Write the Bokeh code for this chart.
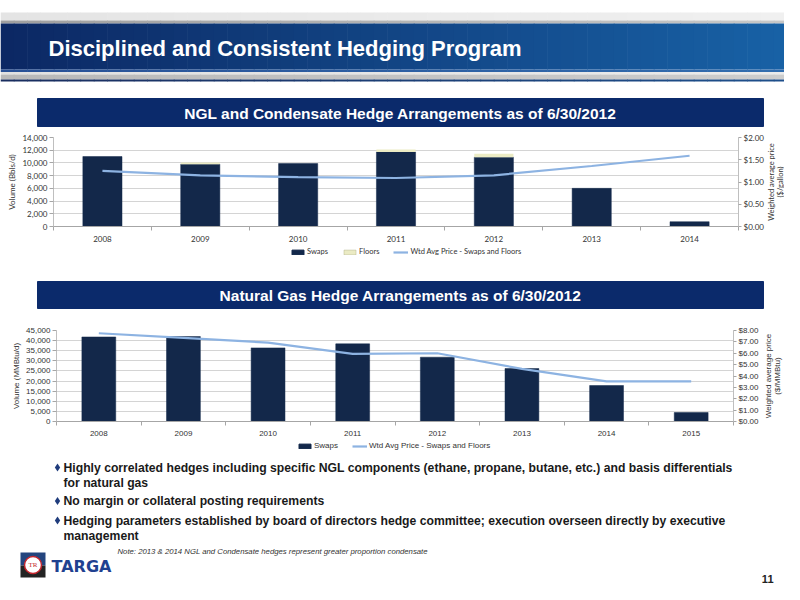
import math
import numpy as np
from bokeh.plotting import figure
from bokeh.layouts import row
from bokeh.models import (Range1d, LinearAxis, FixedTicker, NumeralTickFormatter,
                          Legend, LegendItem, ColumnDataSource)
from bokeh.core.properties import value
from bokeh.embed import file_html
from bokeh.resources import INLINE

# ---------------- data ----------------
ngl_years = ["2008", "2009", "2010", "2011", "2012", "2013", "2014"]
ngl_swaps = [11000, 9800, 9900, 11700, 10900, 6000, 750]
ngl_floors = [0, 250, 0, 400, 530, 0, 0]
ngl_price = [1.25, 1.15, 1.11, 1.09, 1.15, 1.36, 1.59]

gas_years = ["2008", "2009", "2010", "2011", "2012", "2013", "2014", "2015"]
gas_swaps = [41800, 42000, 36400, 38400, 31800, 26200, 17800, 4450]
gas_price = [7.76, 7.35, 6.94, 5.95, 6.00, 4.63, 3.52, 3.52]

ngl_ticks = [0, 2000, 4000, 6000, 8000, 10000, 12000, 14000]
ngl_price_ticks = [0, 0.5, 1.0, 1.5, 2.0]
gas_ticks = [0, 5000, 10000, 15000, 20000, 25000, 30000, 35000, 40000, 45000]
gas_price_ticks = [0, 1, 2, 3, 4, 5, 6, 7, 8]

title_text = "Disciplined and Consistent Hedging Program"
ngl_title = "NGL and Condensate Hedge Arrangements as of 6/30/2012"
gas_title = "Natural Gas Hedge Arrangements as of 6/30/2012"
ngl_price_title = ["Weighted average price", "($/gallon)"]
gas_price_title = ["Weighted average price", "($/MMBtu)"]
bullets = [
    ["Highly correlated hedges including specific NGL components (ethane, propane, butane, etc.) and basis differentials",
     "for natural gas"],
    ["No margin or collateral posting requirements"],
    ["Hedging parameters established by board of directors hedge committee; execution overseen directly by executive",
     "management"],
]
note_text = "Note: 2013 & 2014 NGL and Condensate hedges represent greater proportion condensate"

NAVY_BAR = "#13284a"
LINE_BLUE = "#8db3e2"
FLOOR = "#ebebc4"
BOX = "#0b2a6b"
W = 784


def deco(h, y0):
    p = figure(width=W, height=h, x_range=Range1d(0, W), y_range=Range1d(y0 + h, y0),
               output_backend="svg", toolbar_location=None, min_border=0,
               min_border_left=0, min_border_right=0, min_border_top=0, min_border_bottom=0,
               x_axis_type=None, y_axis_type=None, outline_line_color=None,
               background_fill_color="white", border_fill_color="white")
    return p


def hgrad(p, x0, x1, y0, y1, c0, c1, n=60):
    xs = np.linspace(x0, x1, n + 1)
    cols = []
    for i in range(n):
        t = i / (n - 1)
        cols.append("#%02x%02x%02x" % tuple(int(round(a + (b - a) * t)) for a, b in zip(c0, c1)))
    p.quad(left=xs[:-1], right=xs[1:] + 0.6, top=[y0] * n, bottom=[y1] * n,
           fill_color=cols, line_color=None)


# ---------------- header ----------------
pH = deco(132, 0)
hgrad(pH, 0, 800, 12, 20, (228, 228, 228), (240, 240, 240))
hgrad(pH, 0, 800, 20, 23, (160, 160, 160), (200, 200, 200))
hgrad(pH, 0, 800, 23, 69, (12, 40, 100), (24, 98, 166))
hgrad(pH, 0, 800, 69, 71.5, (40, 80, 150), (50, 110, 175))
hgrad(pH, 0, 800, 71.5, 74, (225, 225, 225), (235, 235, 235))
hgrad(pH, 0, 800, 74, 79, (185, 185, 185), (205, 205, 205))
hgrad(pH, 0, 800, 79, 81, (25, 45, 95), (30, 80, 140))
pH.text(x=[48], y=[48], text=[title_text], text_font=value("Liberation Sans"),
        text_font_style="bold", text_font_size="22px", text_color="white",
        text_baseline="middle", text_align="left")
pH.quad(left=[37], right=[763], top=[98], bottom=[126], fill_color=BOX, line_color=BOX)
pH.text(x=[400], y=[112.5], text=[ngl_title], text_font=value("Liberation Sans"),
        text_font_style="bold", text_font_size="15.5px", text_color="white",
        text_baseline="middle", text_align="center")


def style_axis(ax, font, size):
    ax.major_label_text_font = font
    ax.major_label_text_font_size = size
    ax.major_label_text_color = "#333333"
    ax.axis_label_text_font = font
    ax.axis_label_text_font_style = "normal"
    ax.axis_label_text_color = "#333333"
    ax.axis_line_color = "#a6a6a6"
    ax.major_tick_line_color = "#a6a6a6"
    ax.minor_tick_line_color = "#a6a6a6"
    ax.major_tick_in = 0
    ax.minor_tick_in = 0


def chart(years, swaps, price, ticks, pticks, pmax, floors, w, h, y0, top, bottom,
          left, right, font, fsize, ylabel):
    n = len(years)
    xs = list(range(n))
    data = dict(x=xs, swaps=swaps, price=price)
    if floors is not None:
        data["ftop"] = [s + f for s, f in zip(swaps, floors)]
    src = ColumnDataSource(data)
    p = figure(width=w, height=h, x_range=Range1d(-0.5, n - 0.5),
               y_range=Range1d(ticks[0], ticks[-1]),
               output_backend="svg", toolbar_location=None,
               min_border_left=left, min_border_right=w - right,
               min_border_top=top - y0, min_border_bottom=y0 + h - bottom,
               outline_line_color=None, background_fill_color="white",
               border_fill_color="white")
    p.extra_y_ranges = {"price": Range1d(pticks[0], pmax)}
    p.xgrid.visible = False
    p.ygrid.ticker = FixedTicker(ticks=ticks)
    p.ygrid.grid_line_color = "#d4d4d4"

    xa = p.xaxis[0]
    xa.ticker = FixedTicker(ticks=xs, minor_ticks=[i - 0.5 for i in range(n + 1)])
    xa.major_label_overrides = {i: y for i, y in enumerate(years)}
    style_axis(xa, font, fsize)
    xa.major_tick_out = 0
    xa.minor_tick_out = 4
    xa.major_label_standoff = 5

    ya = p.yaxis[0]
    ya.ticker = FixedTicker(ticks=ticks)
    ya.formatter = NumeralTickFormatter(format="0,0")
    style_axis(ya, font, fsize)
    ya.major_tick_out = 4
    ya.major_label_standoff = 2
    ya.axis_label = ylabel
    ya.axis_label_text_font_size = fsize
    ya.axis_label_standoff = 2
    ya.axis_line_color = "#bfbfbf"

    ra = LinearAxis(y_range_name="price", ticker=FixedTicker(ticks=pticks),
                    formatter=NumeralTickFormatter(format="$0.00"))
    style_axis(ra, font, fsize)
    ra.major_tick_out = 3
    ra.major_label_standoff = 2
    ra.axis_line_color = "#bfbfbf"
    p.add_layout(ra, "right")

    p.vbar(x="x", top="swaps", width=0.4, source=src, fill_color=NAVY_BAR,
           line_color=NAVY_BAR, line_width=0.5)
    if floors is not None:
        p.vbar(x="x", bottom="swaps", top="ftop", width=0.4, source=src,
               fill_color=FLOOR, line_color=None)
    p.line(x="x", y="price", source=src, y_range_name="price",
           line_color=LINE_BLUE, line_width=2.2)
    return p


def side_title(x0, h, y0, top, bottom, lines, xs, font, fsize):
    # narrow strip to the right of a chart, holding the price-axis title (reads upward)
    p = figure(width=W - x0, height=h, x_range=Range1d(x0, W), y_range=Range1d(0, 1),
               output_backend="svg", toolbar_location=None,
               min_border_left=0, min_border_right=0,
               min_border_top=top - y0, min_border_bottom=y0 + h - bottom,
               x_axis_type=None, y_axis_type=None, outline_line_color=None,
               background_fill_color="white", border_fill_color="white")
    p.text(x=xs, y=[0.5] * len(lines), text=lines, angle=math.pi / 2,
           text_font=value(font), text_font_size=fsize, text_color="#333333",
           text_align="center", text_baseline="middle")
    return p


def legend_fig(h, y0, names, with_floors, font, fsize, lx):
    p = deco(h, y0)
    proxy = ColumnDataSource(dict(x=[0], y=[0]))
    items = []
    r1 = p.vbar(x="x", top="y", width=1, source=proxy, fill_color=NAVY_BAR,
                line_color=NAVY_BAR, visible=False)
    items.append(LegendItem(label=names[0], renderers=[r1]))
    if with_floors:
        r2 = p.vbar(x="x", top="y", width=1, source=proxy, fill_color=FLOOR,
                    line_color="#b5b58a", line_width=0.5, visible=False)
        items.append(LegendItem(label=names[1], renderers=[r2]))
    r3 = p.line(x="x", y="y", source=proxy, line_color=LINE_BLUE, line_width=2.2,
                visible=False)
    items.append(LegendItem(label=names[-1], renderers=[r3]))
    lg = Legend(items=items, orientation="horizontal", location=(lx, 2),
                label_text_font=font, label_text_font_size=fsize,
                label_text_color="#333333", glyph_width=15, glyph_height=6,
                label_standoff=2, spacing=14, padding=0, margin=0,
                border_line_color=None, background_fill_alpha=0,
                label_height=8)
    p.add_layout(lg, "center")
    return p


pT = chart(ngl_years, ngl_swaps, ngl_price, ngl_ticks, ngl_price_ticks, 2.0, ngl_floors,
           766, 114, 132, 137, 226, 53, 739, "Lato", "8px", "Volume (Bbls/d)")
pTR = side_title(766, 114, 132, 137, 226, ngl_price_title, [770.5, 779.5], "Lato", "7.5px")
pTL = legend_fig(12, 246, ["Swaps", "Floors", "Wtd Avg Price - Swaps and Floors"], True,
                 "Lato", "7.5px", 290)

# ---------------- second subtitle ----------------
pS = deco(64, 258)
pS.quad(left=[37], right=[763], top=[281], bottom=[308], fill_color=BOX, line_color=BOX)
pS.text(x=[400], y=[294.5], text=[gas_title], text_font=value("Liberation Sans"),
        text_font_style="bold", text_font_size="15.5px", text_color="white",
        text_baseline="middle", text_align="center")

pB = chart(gas_years, gas_swaps, gas_price, gas_ticks, gas_price_ticks, 8.0, None,
           762, 118, 322, 330, 421, 56, 733, "Liberation Sans", "8px", "Volume (MMBtu/d)")
pBR = side_title(762, 118, 322, 330, 421, gas_price_title, [767.5, 776.5],
                 "Liberation Sans", "8px")
pBL = legend_fig(12, 440, ["Swaps", "Wtd Avg Price - Swaps and Floors"], False,
                 "Liberation Sans", "8px", 297)

# ---------------- footer ----------------
pF = deco(132, 452)
line_y = [[467, 482], [500.5], [520, 535]]
bx, by, tx, ty, tt = [], [], [], [], []
for lines, ys in zip(bullets, line_y):
    bx.append(57)
    by.append(ys[0])
    for t, y in zip(lines, ys):
        tx.append(63)
        ty.append(y)
        tt.append(t)
pF.scatter(x=bx, y=by, marker="diamond", size=8, fill_color="#1f3c7c", line_color=None)
pF.text(x=tx, y=ty, text=tt, text_font=value("Liberation Sans"), text_font_style="bold",
        text_font_size="12.2px", text_color="#1a1a1a", text_baseline="middle",
        text_align="left")
pF.text(x=[117], y=[551], text=[note_text], text_font=value("Liberation Sans"),
        text_font_style="italic", text_font_size="7.75px", text_color="#333333",
        text_baseline="middle", text_align="left")
# logo
pF.quad(left=[20], right=[45], top=[552], bottom=[565], fill_color="#24457e", line_color=None)
pF.quad(left=[20], right=[45], top=[565], bottom=[577], fill_color="#232323", line_color=None)
pF.scatter(x=[32.5], y=[564.5], marker="circle", size=17, fill_color="white",
           line_color="#c4262e", line_width=1.5)
pF.text(x=[32.5], y=[564.5], text=["TR"], text_font=value("Liberation Serif"),
        text_font_size="7px", text_color="#c4262e", text_baseline="middle",
        text_align="center")
pF.text(x=[51], y=[565.5], text=["TARGA"], text_font=value("DejaVu Sans"),
        text_font_style="bold", text_font_size="16px", text_color="#1f4190",
        text_baseline="middle", text_align="left")
pF.text(x=[773], y=[578], text=["11"], text_font=value("Liberation Sans"),
        text_font_style="bold", text_font_size="11px", text_color="#222222",
        text_baseline="middle", text_align="right")

roots = [pH, row(pT, pTR, spacing=0), pTL, pS, row(pB, pBR, spacing=0), pBL, pF]
open("out.html", "w").write(file_html(roots, INLINE))
